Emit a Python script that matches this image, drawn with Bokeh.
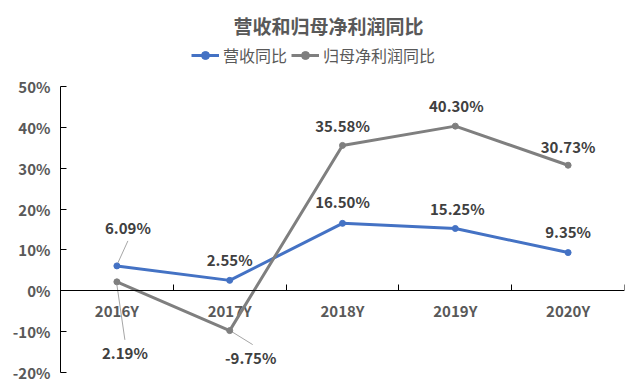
from bokeh.plotting import figure
from bokeh.models import (ColumnDataSource, Range1d, FixedTicker, PrintfTickFormatter,
                          Legend, LegendItem, Title)
from bokeh.core.properties import value
from bokeh.embed import file_html
from bokeh.resources import INLINE

# ---- data ----
categories = ["2016Y", "2017Y", "2018Y", "2019Y", "2020Y"]
revenue_yoy = [6.09, 2.55, 16.50, 15.25, 9.35]
profit_yoy = [2.19, -9.75, 35.58, 40.30, 30.73]
y_ticks = [-20, -10, 0, 10, 20, 30, 40, 50]
series_names = ["营收同比", "归母净利润同比"]
title_text = "营收和归母净利润同比"

# ---- style ----
FONT = "Noto Sans CJK SC"
BLUE = "#4472C4"
GREY = "#7F7F7F"
AXIS_TXT = "#595959"
LBL_TXT = "#404040"

W, H = 634, 386
FL, FR, FT, FB = 60, 10, 40, 14          # frame reaches up to just below the title
AXIS_TOP_PX = 86                         # where the top tick (50%) sits
FW, FH = W - FL - FR, H - FT - FB

xs = list(range(len(categories)))
ymin, ymax = y_ticks[0], y_ticks[-1]
ppu = (H - FB - AXIS_TOP_PX) / (ymax - ymin)     # pixels per y unit
ytop = ymax + (AXIS_TOP_PX - FT) / ppu

p = figure(width=W, height=H, output_backend="svg", toolbar_location=None,
           x_range=Range1d(-0.5, len(categories) - 0.5), y_range=Range1d(ymin, ytop),
           min_border_left=FL, min_border_right=FR, min_border_top=FT, min_border_bottom=FB,
           background_fill_color="white", border_fill_color="white")
p.outline_line_color = None
p.xgrid.visible = False
p.ygrid.visible = False

# y axis
ya = p.yaxis[0]
ya.bounds = (ymin, ymax)
ya.ticker = FixedTicker(ticks=y_ticks)
ya.formatter = PrintfTickFormatter(format="%d%%")
ya.major_tick_in = 6
ya.major_tick_out = 0
ya.minor_tick_in = 0
ya.minor_tick_out = 0
ya.axis_line_color = "black"
ya.major_tick_line_color = "black"
ya.major_label_standoff = 10
ya.major_label_text_font = FONT
ya.major_label_text_font_style = "bold"
ya.major_label_text_font_size = "15px"
ya.major_label_text_color = AXIS_TXT

# x axis at y = 0, ticks at category boundaries
xa = p.xaxis[0]
xa.fixed_location = 0
xa.ticker = FixedTicker(ticks=[], minor_ticks=[i - 0.5 for i in range(len(categories) + 1)])
xa.major_tick_in = 0
xa.major_tick_out = 0
xa.minor_tick_in = 6
xa.minor_tick_out = 0
xa.minor_tick_line_color = "black"
xa.axis_line_color = "black"
xa.major_label_standoff = 0

# category labels
p.text(x=xs, y=[0] * len(xs), text=categories, y_offset=20,
       text_align="center", text_baseline="middle",
       text_font=value(FONT), text_font_style="bold", text_font_size="15px",
       text_color=AXIS_TXT)

# leader lines (pixel offsets converted to data units)
xpp = len(categories) / FW
ypp = 1.0 / ppu
leader = [  # (series, index, start dx, dy, end dx, dy) in screen px, dy down positive
    (revenue_yoy, 0, 1, -3, 11, -25),
    (profit_yoy, 0, 0, 3, 8, 58),
    (profit_yoy, 1, 2, 1, 23, 14),
]
p.segment(x0=[xs[i] + a * xpp for s, i, a, b, c, d in leader],
          y0=[s[i] - b * ypp for s, i, a, b, c, d in leader],
          x1=[xs[i] + c * xpp for s, i, a, b, c, d in leader],
          y1=[s[i] - d * ypp for s, i, a, b, c, d in leader],
          line_color="#A6A6A6", line_width=1)

# series
r1 = p.line(xs, revenue_yoy, line_color=BLUE, line_width=3)
m1 = p.scatter(xs, revenue_yoy, size=6, fill_color=BLUE, line_color=BLUE)
r2 = p.line(xs, profit_yoy, line_color=GREY, line_width=3)
m2 = p.scatter(xs, profit_yoy, size=6, fill_color=GREY, line_color=GREY)

# data labels
rev_dx = [11, 0, 0, 2, 0]
rev_dy = [-38, -21, -22, -20, -21]
pro_dx = [8, 21, 0, 1, 0]
pro_dy = [71, 27, -20, -21, -19]
lab = ColumnDataSource(dict(
    x=xs + xs,
    y=revenue_yoy + profit_yoy,
    t=["%.2f%%" % v for v in revenue_yoy + profit_yoy],
    dx=rev_dx + pro_dx,
    dy=rev_dy + pro_dy,
))
p.text(x="x", y="y", text="t", x_offset="dx", y_offset="dy", source=lab,
       text_align="center", text_baseline="middle",
       text_font=value(FONT), text_font_style="bold", text_font_size="15px",
       text_color=LBL_TXT)

# legend (inside the extended frame, above the plotting area)
legend = Legend(items=[LegendItem(label=series_names[0], renderers=[r1, m1]),
                       LegendItem(label=series_names[1], renderers=[r2, m2])],
                orientation="horizontal", location=(131, FH - (67 - FT)),
                padding=0, margin=0, spacing=4, label_standoff=4,
                glyph_width=28, glyph_height=20, label_height=20,
                label_text_font=FONT, label_text_font_size="16px",
                label_text_color=AXIS_TXT, border_line_color=None,
                background_fill_alpha=0)
p.add_layout(legend, "center")

title = Title(text=title_text, align="left", offset=173,
              text_font=FONT, text_font_style="bold", text_font_size="19px",
              text_color=AXIS_TXT, standoff=3)
p.add_layout(title, "above")

open("out.html", "w").write(file_html(p, INLINE))
